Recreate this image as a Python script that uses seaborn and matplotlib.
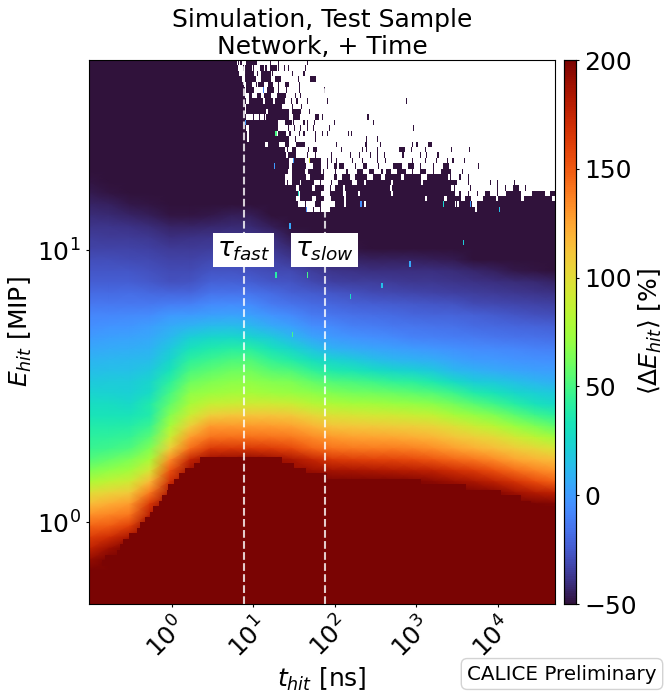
import numpy as np
import matplotlib
matplotlib.use("Agg")
import matplotlib.pyplot as plt
from matplotlib.colors import ListedColormap
from matplotlib.transforms import ScaledTranslation
import seaborn as sns

# ---------------------------
# Axis ranges and labels
# ---------------------------
t_min, t_max = 0.0965, 5e4
e_min, e_max = 0.5, 50.0
t_ticks = [1, 10, 100, 1000, 10000]
t_tick_labels = ["$10^{0}$", "$10^{1}$", "$10^{2}$", "$10^{3}$", "$10^{4}$"]
e_ticks = [1, 10]
e_tick_labels = ["$10^{0}$", "$10^{1}$"]
cbar_ticks = [-50, 0, 50, 100, 150, 200]
tau_fast, tau_slow = 7.6, 75.0

# ---------------------------
# <dE>, coarse grid, 24 time columns.
# Rows go from high E to low E. Above the band it is all -50, below all 200
# ---------------------------
n_rows_above = 11
n_rows_below = 3
delta_band = [
    [-49,-50,-50,-50,-50,-50,-50,-50,-50,-50,-50,-50,-50,-50,-50,-50,-50,-50,-50,-50,-50,-50,-50,-50],
    [-47,-49,-50,-50,-50,-50,-50,-50,-50,-50,-50,-50,-50,-50,-50,-50,-50,-50,-50,-50,-50,-50,-50,-50],
    [-44,-45,-48,-49,-50,-50,-50,-50,-50,-50,-50,-50,-50,-50,-50,-50,-50,-50,-50,-50,-50,-50,-50,-50],
    [-41,-42,-44,-46,-49,-49,-48,-46,-46,-50,-50,-50,-50,-50,-50,-50,-50,-50,-50,-50,-50,-50,-50,-50],
    [-38,-38,-39,-41,-44,-44,-43,-42,-42,-46,-50,-50,-50,-50,-50,-50,-50,-50,-50,-50,-50,-50,-50,-50],
    [-35,-36,-36,-37,-40,-39,-38,-38,-38,-40,-47,-50,-50,-50,-50,-50,-50,-50,-50,-50,-50,-50,-50,-50],
    [-33,-33,-33,-34,-36,-36,-35,-34,-34,-37,-42,-46,-48,-49,-50,-50,-50,-50,-50,-50,-50,-50,-50,-50],
    [-29,-29,-30,-31,-33,-33,-31,-30,-31,-33,-37,-41,-43,-44,-45,-45,-45,-46,-47,-50,-50,-50,-50,-50],
    [-26,-26,-26,-28,-30,-30,-27,-27,-28,-30,-31,-35,-38,-39,-40,-40,-40,-40,-41,-43,-45,-48,-49,-50],
    [-23,-23,-23,-25,-28,-27,-22,-22,-23,-26,-27,-31,-34,-35,-35,-36,-37,-37,-38,-39,-40,-41,-42,-44],
    [-18,-18,-17,-19,-20,-20,-15,-15,-15,-18,-22,-24,-26,-28,-30,-31,-32,-33,-34,-35,-36,-37,-38,-39],
    [-13,-13,-13,-13,-11,-10,-7,-6,-7,-12,-15,-18,-20,-22,-23,-24,-25,-26,-27,-30,-31,-32,-33,-34],
    [-8,-8,-7,-6,-1,0,2,3,2,-3,-7,-12,-14,-16,-17,-18,-20,-21,-21,-22,-24,-26,-28,-29],
    [-5,-3,-2,1,6,10,13,14,12,6,2,-5,-7,-10,-11,-13,-14,-15,-16,-18,-19,-20,-21,-22],
    [0,2,3,5,12,22,26,27,25,20,12,4,0,-3,-5,-7,-9,-10,-11,-12,-14,-15,-16,-17],
    [5,6,7,9,19,32,37,40,40,32,25,16,9,6,4,2,0,-2,-4,-6,-7,-8,-9,-10],
    [10,11,12,13,25,42,47,51,52,44,38,30,24,20,15,11,9,7,3,0,-1,-3,-4,-5],
    [14,15,15,19,33,51,56,60,61,55,52,44,37,34,30,26,23,19,12,9,6,4,2,1],
    [19,20,20,25,42,60,65,68,69,66,64,58,53,51,48,44,42,36,28,21,19,15,11,8],
    [24,23,22,28,50,69,73,75,76,74,72,69,65,62,61,59,56,53,47,38,33,26,22,19],
    [29,29,27,37,57,77,88,90,92,92,90,83,79,76,75,73,71,68,62,55,48,40,32,27],
    [33,33,33,38,66,90,107,111,112,112,110,103,97,95,93,92,89,86,77,71,65,56,48,42],
    [38,38,39,46,76,108,129,129,129,128,126,119,113,111,110,108,107,104,98,90,83,73,65,57],
    [42,43,45,55,90,128,142,143,143,142,140,134,129,126,125,124,121,118,112,107,102,93,84,75],
    [46,48,52,65,107,144,164,165,165,163,158,147,142,140,139,139,137,133,127,121,116,109,103,96],
    [53,58,64,77,133,175,190,193,195,191,185,175,165,162,160,159,157,152,146,141,134,125,119,115],
    [65,70,75,95,153,190,195,195,195,195,192,190,187,186,184,182,180,177,170,164,155,145,137,131],
    [79,86,92,117,170,195,200,200,200,200,200,200,200,200,200,200,198,195,190,185,178,168,157,148],
    [100,105,110,140,185,200,200,200,200,200,200,200,200,200,200,200,200,200,200,200,197,189,182,178],
    [116,122,128,165,195,200,200,200,200,200,200,200,200,200,200,200,200,200,200,200,200,200,200,198],
    [132,136,141,180,200,200,200,200,200,200,200,200,200,200,200,200,200,200,200,200,200,200,200,200],
    [147,150,161,195,200,200,200,200,200,200,200,200,200,200,200,200,200,200,200,200,200,200,200,200],
    [162,170,185,200,200,200,200,200,200,200,200,200,200,200,200,200,200,200,200,200,200,200,200,200],
    [176,190,200,200,200,200,200,200,200,200,200,200,200,200,200,200,200,200,200,200,200,200,200,200],
    [192,200,200,200,200,200,200,200,200,200,200,200,200,200,200,200,200,200,200,200,200,200,200,200],
    [200,200,200,200,200,200,200,200,200,200,200,200,200,200,200,200,200,200,200,200,200,200,200,200],
]

# ---------------------------
# Top rows of the fine 400x100 binning: runs of filled time bins, rest is empty
# ---------------------------
n_t_bins, n_e_bins = 400, 100
filled_runs = [
    [(0,126),(128,128),(130,130),(135,143),(155,155),(162,162),(187,187)],
    [(0,127),(132,132),(134,139),(141,141),(147,149),(151,152),(155,160),(162,162),(167,167),(171,171),(185,185)],
    [(0,128),(134,141),(144,144),(148,155),(157,157),(174,174),(184,184)],
    [(0,130),(134,142),(148,155),(160,164),(179,179),(190,194)],
    [(0,132),(135,139),(143,143),(145,149),(154,157),(162,162),(168,171),(180,180)],
    [(0,133),(135,141),(149,149),(153,158),(162,162),(169,169),(180,180),(202,202)],
    [(0,133),(137,139),(144,147),(150,155),(161,168),(177,177),(181,181)],
    [(0,134),(137,148),(151,157),(160,167),(173,173),(178,178),(187,187),(204,204),(272,272)],
    [(0,133),(135,150),(151,165),(174,174),(182,182)],
    [(0,133),(135,151),(154,171),(174,181),(189,189)],
    [(0,134),(141,141),(146,146),(150,150),(152,171),(175,180),(194,196),(200,200),(239,239)],
    [(0,134),(135,161),(168,173),(175,175),(184,184),(187,187),(193,193),(210,210),(244,244)],
    [(0,134),(137,161),(171,171),(176,176),(181,181),(187,187),(192,192),(206,206),(278,278)],
    [(0,135),(137,160),(162,168),(172,172),(180,180),(184,184),(194,194),(200,200),(204,204),(222,222),(225,225)],
    [(0,135),(137,171),(177,177),(194,194),(238,238),(247,247)],
    [(0,150),(154,162),(168,171),(178,184),(212,212),(237,238),(250,250),(277,277),(281,281),(291,293)],
    [(0,167),(170,170),(174,177),(188,188),(192,195),(216,216),(234,234),(238,238),(247,247),(266,270),(276,276),(288,288),(311,311),(326,326)],
    [(0,168),(171,177),(187,187),(194,194),(208,208),(224,224),(232,232),(241,241),(247,247),(253,253),(269,269),(284,284),(289,289),(299,299)],
    [(0,171),(175,184),(190,198),(204,204),(208,208),(212,212),(226,226),(234,234),(247,247),(254,254),(277,277),(288,288),(298,298),(307,307),(312,312),(322,322)],
    [(0,171),(174,185),(192,198),(204,204),(210,212),(215,218),(228,228),(235,238),(248,248),(261,268),(274,278),(284,284),(295,295),(304,308),(334,334)],
    [(0,170),(174,184),(188,198),(201,201),(211,211),(221,221),(230,234),(240,244),(251,251),(255,258),(264,271),(277,277),(284,288),(295,295),(302,310),(320,320)],
    [(0,167),(174,185),(190,201),(210,212),(217,223),(228,238),(244,250),(254,267),(270,284),(290,307),(310,310),(318,318),(325,325)],
    [(0,167),(170,170),(174,180),(182,192),(198,198),(208,208),(214,225),(230,235),(238,258),(261,284),(287,315),(325,325),(344,344),(350,350),(365,365)],
    [(0,177),(180,190),(194,201),(207,207),(211,217),(220,257),(260,310),(313,313),(327,327),(350,350),(357,357),(364,368),(374,374)],
    [(0,178),(181,198),(207,217),(221,230),(233,258),(261,313),(318,318),(325,325),(333,333),(340,343),(350,350),(358,370),(380,390),(396,399)],
    [(0,177),(181,190),(195,201),(208,218),(221,287),(290,304),(307,318),(323,327),(338,348),(351,370),(373,396)],
    [(0,178),(185,185),(194,198),(211,218),(221,235),(238,313),(315,315),(318,328),(333,399)],
    [(0,185),(192,192),(198,198),(207,330),(333,399)],
]

# single outlier bins: time bin, row from the top, value
speck_t = [149, 134, 160, 175, 159, 189, 179, 186, 233, 304, 327, 352, 172, 321, 275, 251, 224, 160, 187, 174]
speck_e = [5, 11, 13, 18, 19, 18, 24, 27, 26, 26, 26, 27, 30, 33, 37, 41, 43, 39, 39, 50]
speck_v = [-10, 0, 50, 0, 0, 95, 30, -5, -5, 25, 0, 15, 5, 20, 5, 15, 30, 40, 50, 50]

# first and last time bin that sit at the 200 limit, per row from the top
sat_rows = list(range(73, 93))
sat_start = [95, 90, 82, 77, 73, 68, 67, 63, 60, 55, 52, 48, 44, 41, 34, 29, 27, 24, 14, 11]
sat_end = [165, 175, 185, 203, 284, 323, 353, 370, 378, 399, 399, 399, 399, 399, 399, 399, 399, 399, 399, 399]

# ---------------------------
# Build the grids
# ---------------------------
band = np.array(delta_band, dtype=float)
delta = np.vstack([np.full((n_rows_above, band.shape[1]), -50.0), band,
                   np.full((n_rows_below, band.shape[1]), 200.0)])

empty = np.zeros((n_e_bins, n_t_bins), dtype=bool)
for row, runs in enumerate(filled_runs):
    empty[row, :] = True
    for start, end in runs:
        empty[row, start:end + 1] = False

specks = np.full((n_e_bins, n_t_bins), np.nan)
for row, start, end in zip(sat_rows, sat_start, sat_end):
    specks[row, start:end + 1] = 200
for t_bin, e_bin, val in zip(speck_t, speck_e, speck_v):
    specks[e_bin, t_bin] = val

def t_pos(t):
    return (np.log10(t) - np.log10(t_min)) / (np.log10(t_max) - np.log10(t_min)) * n_t_bins

def e_pos(e):
    return (np.log10(e_max) - np.log10(e)) / (np.log10(e_max) - np.log10(e_min)) * n_e_bins

# ---------------------------
# Plot
# ---------------------------
W, H = 672, 699
box = [89 / W, (H - 604) / H, 466 / W, 544 / H]
fs = 18

fig = plt.figure(figsize=(W / 100, H / 100), dpi=100)
ax = fig.add_axes(box)
cax = fig.add_axes([564 / W, (H - 604) / H, 12 / W, 544 / H])

sns.heatmap(delta, cmap="turbo", vmin=-50, vmax=200, ax=ax, cbar_ax=cax,
            xticklabels=False, yticklabels=False, shading="gouraud")
ax.set_xlim(0, delta.shape[1] - 1)
ax.set_ylim(delta.shape[0] - 1, 0)

top = fig.add_axes(box)
top.patch.set_visible(False)
sns.heatmap(empty.astype(float), mask=~empty, cmap=ListedColormap(["white"]), cbar=False,
            ax=top, xticklabels=False, yticklabels=False)
sns.heatmap(specks, cmap="turbo", vmin=-50, vmax=200, cbar=False,
            ax=top, xticklabels=False, yticklabels=False)

for tau, name in [(tau_fast, r"$\tau_{fast}$"), (tau_slow, r"$\tau_{slow}$")]:
    top.axvline(t_pos(tau), color="white", ls="--", lw=1.5, alpha=0.8)
    top.text(t_pos(tau), e_pos(10), name, fontsize=19, ha="center", va="center",
             bbox=dict(facecolor="white", edgecolor="none", pad=2.8))

top.set_xticks(t_pos(np.array(t_ticks)))
top.set_xticklabels(t_tick_labels, rotation=45)
top.set_yticks(e_pos(np.array(e_ticks)))
top.set_yticklabels(e_tick_labels, rotation=0)
top.tick_params(length=2.5, width=0.8, labelsize=fs)
shift = ScaledTranslation(-5 / 100, 0, fig.dpi_scale_trans)
for label in top.get_xticklabels():
    label.set_transform(label.get_transform() + shift)
top.set_xlabel("$t_{hit}$ [ns]", fontsize=fs, labelpad=2)
top.set_ylabel("$E_{hit}$ [MIP]", fontsize=fs, labelpad=2)
top.set_title("Simulation, Test Sample\nNetwork, + Time", fontsize=fs, pad=4)
for side in top.spines.values():
    side.set_visible(True)
    side.set_linewidth(0.8)

cax.set_yticks(cbar_ticks)
cax.tick_params(length=2.5, width=0.8, labelsize=fs)
cax.set_ylabel(r"$\langle\Delta E_{hit}\rangle$ [%]", fontsize=fs, labelpad=0)
for side in cax.spines.values():
    side.set_visible(True)
    side.set_linewidth(0.8)

fig.text(562 / W, (H - 674) / H, "CALICE Preliminary", fontsize=14.3, ha="center", va="center",
         bbox=dict(boxstyle="round,pad=0.3", facecolor="white", edgecolor="lightgray"))

fig.savefig("out.png", dpi=100)
plt.close(fig)
